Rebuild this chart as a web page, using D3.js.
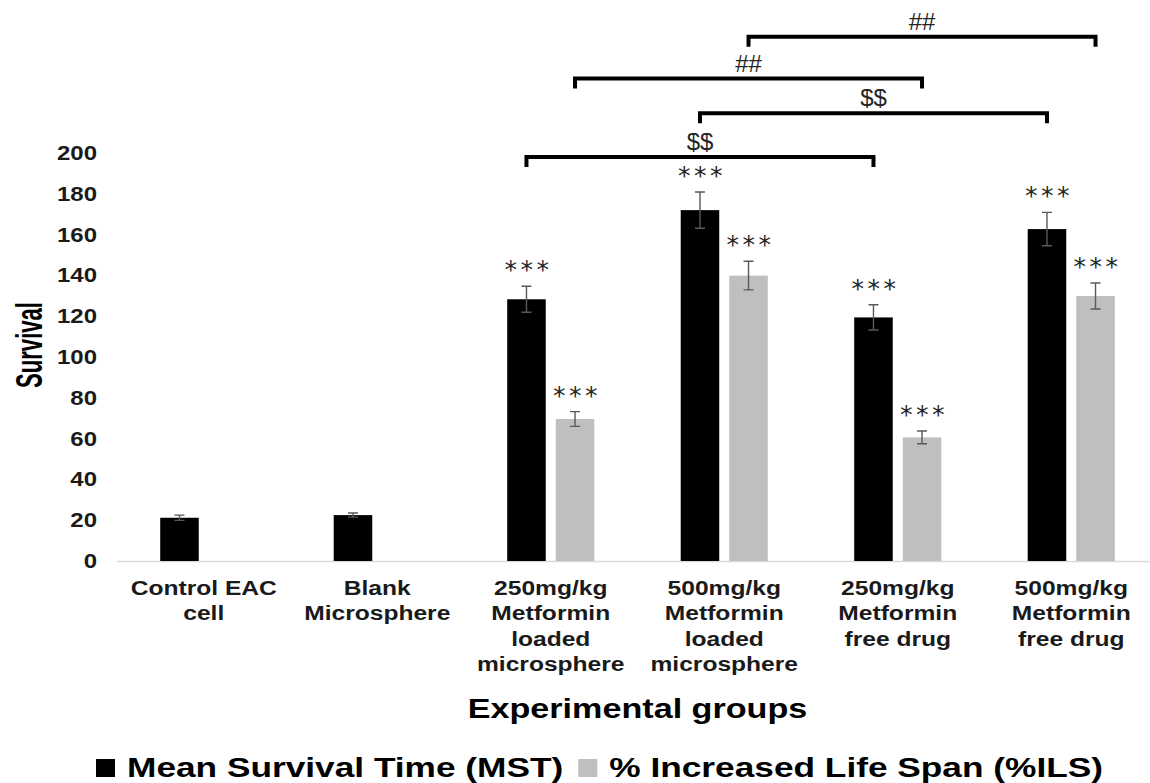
<!DOCTYPE html>
<html lang="en">
<head>
  <meta charset="UTF-8">
  <title>Survival by experimental group</title>
  <style>
    body { margin: 0; background: #fff; }
    svg { display: block; font-family: "Liberation Sans", Arial, sans-serif; }
    .domain { stroke: #d9d9d9; stroke-width: 1.5; }
    .err { stroke: #595959; stroke-width: 1.4; fill: none; }
    .bracket { stroke: #000; stroke-width: 4; fill: none; }
  </style>
  <script src="https://d3js.org/d3.v7.min.js"></script>
</head>
<body>
  <div id="chart"></div>
  <script>
    // data
    var categories = ["Control EAC cell", "Blank Microsphere", "250mg/kg Metformin loaded microsphere",
      "500mg/kg Metformin loaded microsphere", "250mg/kg Metformin free drug", "500mg/kg Metformin free drug"];
    var categoryLines = [
      ["Control EAC", "cell"],
      ["Blank", "Microsphere"],
      ["250mg/kg", "Metformin", "loaded", "microsphere"],
      ["500mg/kg", "Metformin", "loaded", "microsphere"],
      ["250mg/kg", "Metformin", "free drug"],
      ["500mg/kg", "Metformin", "free drug"]
    ];
    var seriesNames = ["Mean Survival Time (MST)", "% Increased Life Span (%ILS)"];
    var seriesKeys = ["MST", "ILS"];
    var mstValues = [21.2, 22.5, 128.3, 172, 119.4, 162.7];
    var mstErrors = [1.3, 1.0, 6.4, 8.9, 6.2, 8.2];
    var ilsValues = [null, null, 69.6, 139.9, 60.6, 129.9];
    var ilsErrors = [null, null, 3.6, 7, 3.1, 6.4];
    var mstStars = ["", "", "***", "***", "***", "***"];
    var ilsStars = ["", "", "***", "***", "***", "***"];
    var yTicks = [0, 20, 40, 60, 80, 100, 120, 140, 160, 180, 200];

    // significance brackets (group index + series, level in survival units)
    var bracketLabels = ["$$", "$$", "##", "##"];
    var bracketFrom = [2, 3, 2, 3];
    var bracketTo = [4, 5, 4, 5];
    var bracketSeries = ["MST", "MST", "ILS", "ILS"];
    var bracketLevels = [198, 219.5, 236.5, 257];

    var colors = { MST: "#000000", ILS: "#bfbfbf" };
    var SX = 1.2; // the source text is drawn wide

    var width = 1150, height = 783;

    var svg = d3.select("#chart").append("svg")
      .attr("width", width)
      .attr("height", height);

    // scales
    var x0 = d3.scaleBand().domain(categories).range([117, 1158]).padding(0);
    var x1 = d3.scaleBand().domain(seriesKeys).range([0, x0.bandwidth()])
      .paddingInner(0.206).paddingOuter(0.89);
    var y = d3.scaleLinear().domain([0, 200]).range([561, 153]);

    // rows for the bars
    var rows = [];
    categories.forEach(function(c, i) {
      rows.push({ cat: c, key: "MST", v: mstValues[i], e: mstErrors[i], star: mstStars[i] });
      if (ilsValues[i] != null)
        rows.push({ cat: c, key: "ILS", v: ilsValues[i], e: ilsErrors[i], star: ilsStars[i] });
    });
    function cx(cat, key) { return x0(cat) + x1(key) + x1.bandwidth() / 2; }

    // y axis, labels only
    var yAxis = svg.append("g")
      .attr("transform", "translate(97,0)")
      .call(d3.axisLeft(y).tickValues(yTicks).tickSize(0).tickPadding(0));
    yAxis.select(".domain").remove();
    yAxis.selectAll("text")
      .attr("transform", "scale(" + SX + ",1)")
      .style("font-size", "20px")
      .style("font-weight", "bold")
      .attr("fill", "#1a1a1a");

    // x axis
    var xAxis = svg.append("g")
      .attr("transform", "translate(0," + y(0) + ")")
      .call(d3.axisBottom(x0).tickSize(0).tickSizeOuter(0).tickFormat(""));
    xAxis.selectAll(".tick text").remove();

    var catLabels = svg.append("g").selectAll("g")
      .data(categories)
      .enter().append("g")
      .attr("transform", function(d) { return "translate(" + (x0(d) + x0.bandwidth() / 2) + ",595) scale(" + SX + ",1)"; });
    catLabels.append("text")
      .attr("text-anchor", "middle")
      .style("font-size", "20.5px")
      .style("font-weight", "bold")
      .attr("fill", "#1a1a1a")
      .selectAll("tspan")
      .data(function(d, i) { return categoryLines[i]; })
      .enter().append("tspan")
      .attr("x", 0)
      .attr("y", function(d, i) { return i * 25.3; })
      .text(function(d) { return d; });

    // bars
    svg.append("g").selectAll("rect")
      .data(rows)
      .enter().append("rect")
      .attr("x", function(d) { return x0(d.cat) + x1(d.key); })
      .attr("width", x1.bandwidth())
      .attr("y", function(d) { return y(d.v); })
      .attr("height", function(d) { return y(0) - y(d.v); })
      .attr("fill", function(d) { return colors[d.key]; });

    // error bars
    svg.append("g").selectAll("path")
      .data(rows)
      .enter().append("path")
      .attr("class", "err")
      .attr("d", function(d) {
        var c = cx(d.cat, d.key), t = y(d.v + d.e), b = y(d.v - d.e);
        return "M" + (c - 5) + "," + t + "H" + (c + 5) + "M" + c + "," + t + "V" + b + "M" + (c - 5) + "," + b + "H" + (c + 5);
      });

    // stars
    svg.append("g").selectAll("text")
      .data(rows.filter(function(d) { return d.star; }))
      .enter().append("text")
      .attr("x", function(d) { return cx(d.cat, d.key) + 2; })
      .attr("y", function(d) { return y(d.v + d.e) - 21 + 13; })
      .attr("text-anchor", "middle")
      .style("font-family", "'DejaVu Sans', sans-serif")
      .style("font-size", "25px")
      .style("letter-spacing", "3.5px")
      .attr("fill", "#262626")
      .text(function(d) { return d.star; });

    // brackets
    var br = svg.append("g").selectAll("g")
      .data(bracketLabels)
      .enter().append("g");
    br.append("path")
      .attr("class", "bracket")
      .attr("d", function(d, i) {
        var a = cx(categories[bracketFrom[i]], bracketSeries[i]),
          b = cx(categories[bracketTo[i]], bracketSeries[i]),
          ly = y(bracketLevels[i]);
        return "M" + a + "," + (ly + 10) + "V" + ly + "H" + b + "V" + (ly + 10);
      });
    br.append("text")
      .attr("x", function(d, i) {
        return (cx(categories[bracketFrom[i]], bracketSeries[i]) + cx(categories[bracketTo[i]], bracketSeries[i])) / 2;
      })
      .attr("y", function(d, i) { return y(bracketLevels[i]) - 7; })
      .attr("text-anchor", "middle")
      .style("font-size", "24px")
      .attr("fill", "#262626")
      .text(function(d) { return d; });

    // axis titles
    svg.append("text")
      .attr("transform", "translate(29,345) rotate(-90)")
      .attr("text-anchor", "middle")
      .attr("dominant-baseline", "central")
      .attr("textLength", 86)
      .attr("lengthAdjust", "spacingAndGlyphs")
      .style("font-size", "37px")
      .style("font-weight", "bold")
      .attr("fill", "#000")
      .text("Survival");

    svg.append("g")
      .attr("transform", "translate(" + ((x0.range()[0] + x0.range()[1]) / 2) + ",718) scale(1.22,1)")
      .append("text")
      .attr("text-anchor", "middle")
      .style("font-size", "28px")
      .style("font-weight", "bold")
      .attr("fill", "#000")
      .text("Experimental groups");

    // legend, laid out left to right then centred
    var LSX = 1.26;
    var legend = svg.append("g");
    var items = legend.selectAll("g")
      .data(seriesKeys)
      .enter().append("g");
    items.append("rect")
      .attr("y", -18).attr("width", 19).attr("height", 18)
      .attr("fill", function(d) { return colors[d]; });
    items.append("g")
      .attr("transform", "translate(31,0) scale(" + LSX + ",1)")
      .append("text")
      .style("font-size", "28px")
      .style("font-weight", "bold")
      .attr("fill", "#000")
      .text(function(d, i) { return seriesNames[i]; });
    var pos = 0;
    items.each(function() {
      var w = d3.select(this).select("text").node().getComputedTextLength() * LSX + 31;
      d3.select(this).attr("transform", "translate(" + pos + ",0)");
      pos += w + 15;
    });
    var total = pos - 15;
    legend.attr("transform", "translate(" + (599.5 - total / 2) + ",777)");
  </script>
</body>
</html>
